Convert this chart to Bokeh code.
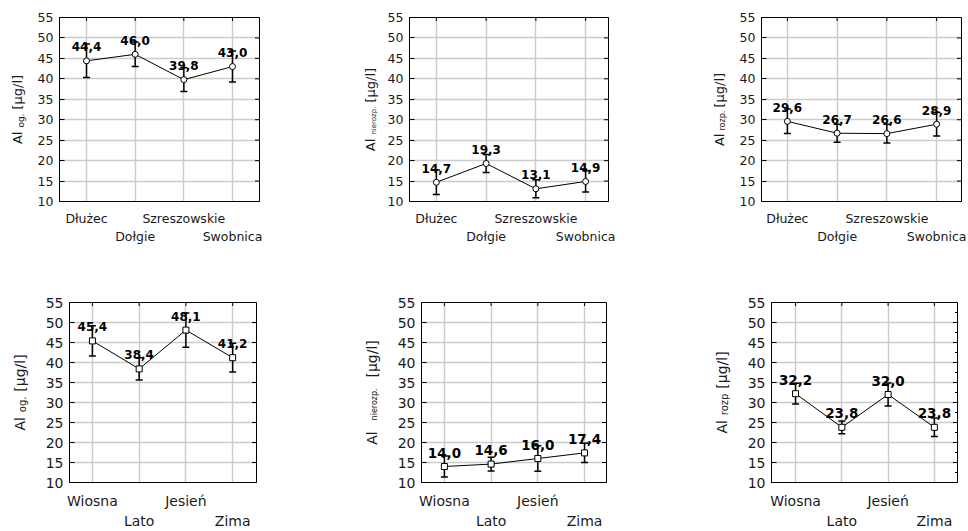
import math
from bokeh.plotting import figure
from bokeh.models import (Range1d, LinearAxis, FixedTicker, Grid, Whisker,
                          TeeHead, ColumnDataSource)
from bokeh.layouts import column, row
from bokeh.embed import file_html
from bokeh.resources import INLINE
from bokeh.core.properties import value

# ---------------- data ----------------
sites = ["Dłużec", "Dołgie", "Szreszowskie", "Swobnica"]
seasons = ["Wiosna", "Lato", "Jesień", "Zima"]
y_ticks = [10, 15, 20, 25, 30, 35, 40, 45, 50, 55]

og_site = [44.4, 46.0, 39.8, 43.0]
og_site_err = [4.1, 3.0, 2.9, 3.8]
nier_site = [14.7, 19.3, 13.1, 14.9]
nier_site_err = [3.0, 2.2, 2.2, 2.6]
rozp_site = [29.6, 26.7, 26.6, 28.9]
rozp_site_err = [3.0, 2.2, 2.3, 2.9]

og_season = [45.4, 38.4, 48.1, 41.2]
og_season_err = [3.8, 2.8, 4.3, 3.6]
nier_season = [14.0, 14.6, 16.0, 17.4]
nier_season_err = [2.6, 1.7, 3.2, 2.4]
rozp_season = [32.2, 23.8, 32.0, 23.8]
rozp_season_err = [2.6, 1.6, 2.9, 2.3]

ylab_main = "Al"
ylab_unit = "[µg/l]"
ylab_subs = ["og.", "nierozp.", "rozp.", "og.", "nierozp.", "rozp"]

# ---------------- styling helpers ----------------
FONT = "DejaVu Sans"
EM = {'A': 0.684, 'l': 0.278, 'o': 0.612, 'g': 0.635, '.': 0.318, 'n': 0.634,
      'i': 0.278, 'e': 0.615, 'r': 0.411, 'z': 0.525, 'p': 0.635, '[': 0.390,
      'µ': 0.636, '/': 0.337, ']': 0.390, ' ': 0.318}


def tw(s, size):
    return sum(EM.get(c, 0.6) for c in s) * size


def label_fig(sub, sp):
    lw, h = sp["lw"], sp["h"]
    fh = h - sp["bt"] - sp["bb"]
    f = figure(width=lw, height=h, output_backend="svg", toolbar_location=None,
               x_axis_type=None, y_axis_type=None,
               x_range=Range1d(0, lw), y_range=Range1d(0, fh),
               min_border_left=0, min_border_right=0, min_border_top=sp["bt"],
               min_border_bottom=sp["bb"], background_fill_color="white",
               border_fill_color="white")
    f.outline_line_color = None
    f.grid.visible = False
    yc = fh / 2
    fm, fs, gap = sp["fm"], sp["fs"], sp["gap"]
    parts = [(ylab_main, fm, 0), (sub, fs, 3), (ylab_unit, fm, 0)]
    widths = [tw(t, s) for t, s, _ in parts]
    total = sum(widths) + 2 * gap
    pos = yc - total / 2
    for (t, s, dx), wdt in zip(parts, widths):
        f.text(x=[sp["lc"] + dx], y=[pos + wdt / 2], text=[t], angle=math.pi / 2,
               text_align="center", text_baseline="middle",
               text_font=value(FONT), text_font_size=f"{s}px",
               text_color="#1a1a1a")
        pos += wdt + gap
    return f


def make_panel(cats, vals, errs, sub, sp):
    pw = sp["w"] - sp["lw"]
    p = figure(width=pw, height=sp["h"], output_backend="svg",
               toolbar_location=None, x_axis_type=None, y_axis_type=None,
               x_range=Range1d(*sp["xr"]), y_range=Range1d(10, 55),
               min_border_left=sp["bl"] - sp["lw"], min_border_right=sp["br"],
               min_border_top=sp["bt"], min_border_bottom=sp["bb"],
               background_fill_color="white", border_fill_color="white")
    p.outline_line_color = "black"
    p.outline_line_width = 1
    idx = list(range(1, len(cats) + 1))

    p.add_layout(Grid(dimension=0, ticker=FixedTicker(ticks=idx),
                      grid_line_color="#cccccc", grid_line_width=1.5))
    p.add_layout(Grid(dimension=1, ticker=FixedTicker(ticks=y_ticks),
                      grid_line_color="#cccccc", grid_line_width=1.5))

    tf = sp["tf"]
    yax = LinearAxis(ticker=FixedTicker(ticks=y_ticks), major_tick_in=5,
                     major_tick_out=0, minor_tick_line_color=None,
                     major_label_standoff=6, major_label_text_font=FONT,
                     major_label_text_font_size=tf,
                     major_label_text_color="#1a1a1a",
                     axis_line_color="black", major_tick_line_color="black")
    p.add_layout(yax, "left")

    odd = [i for i in idx if i % 2 == 1]
    even = [i for i in idx if i % 2 == 0]
    ax1 = LinearAxis(ticker=FixedTicker(ticks=odd),
                     major_label_overrides={i: cats[i - 1] for i in odd},
                     major_tick_line_color=None, minor_tick_line_color=None,
                     major_tick_in=0, major_tick_out=0,
                     major_label_standoff=sp["s1"], major_label_text_font=FONT,
                     major_label_text_font_size=sp["xf"],
                     major_label_text_color="#1a1a1a", axis_line_color="black")
    ax2 = LinearAxis(ticker=FixedTicker(ticks=even),
                     major_label_overrides={i: cats[i - 1] for i in even},
                     major_tick_line_color=None, minor_tick_line_color=None,
                     major_tick_in=0, major_tick_out=0,
                     major_label_standoff=sp["s2"], major_label_text_font=FONT,
                     major_label_text_font_size=sp["xf"],
                     major_label_text_color="#1a1a1a", axis_line_color=None)
    p.add_layout(ax1, "below")
    p.add_layout(ax2, "below")

    # inward ticks on the right and top edges (half of each dash is clipped by the frame)
    p.scatter(x=[sp["xr"][1]] * len(y_ticks), y=y_ticks, marker="dash",
              size=9, line_color="black", line_width=1)
    if sp.get("minor"):
        mt = [t + 2.5 for t in y_ticks[:-1]]
        p.scatter(x=[sp["xr"][1]] * len(mt), y=mt, marker="dash",
                  size=5, line_color="black", line_width=1)
    p.scatter(x=idx, y=[y_ticks[-1]] * len(idx), marker="dash", angle=math.pi / 2,
              size=7, line_color="black", line_width=1)

    src = ColumnDataSource(dict(
        x=idx, y=vals,
        lo=[v - e for v, e in zip(vals, errs)],
        hi=[v + e for v, e in zip(vals, errs)],
        lab=[f"{v:.1f}".replace(".", ",") for v in vals]))

    p.add_layout(Whisker(base="x", upper="hi", lower="lo", source=src,
                         line_color="black", line_width=1.5,
                         upper_head=TeeHead(size=7, line_width=1.5, line_color="black"),
                         lower_head=TeeHead(size=7, line_width=1.5, line_color="black")))
    p.line("x", "y", source=src, line_color="black", line_width=1)
    p.scatter("x", "y", source=src, marker=sp["marker"], size=6,
              fill_color="white", line_color="black", line_width=1)
    p.text("x", "y", "lab", source=src, text_font=value(FONT),
           text_font_style="bold", text_font_size=sp["vf"],
           text_align="center", text_baseline="middle", y_offset=-14,
           text_color="black")

    return row(label_fig(sub, sp), p, spacing=0)


top = dict(h=270, bt=17, bb=69, tf="12.5px", xf="12.5px", vf="12px",
           s1=9, s2=0, marker="circle", fm=13)
bot = dict(h=261, bt=32, bb=48, tf="14px", xf="14px", vf="13.5px",
           s1=10, s2=1, marker="square", fm=14)

specs = [
    dict(top, w=330, bl=59, br=71, xr=(0.445, 4.555), fs=9, gap=4, lw=30, lc=17),
    dict(top, w=320, bl=79, br=42, xr=(0.46, 4.46), fs=7, gap=4, lw=50, lc=40),
    dict(top, w=318, bl=111, br=7, xr=(0.48, 4.5), fs=8, gap=3, lw=80, lc=69),
    dict(bot, w=330, bl=69, br=74, xr=(0.51, 4.51), fs=10, gap=5, lw=34, lc=19, vf="12px"),
    dict(bot, w=320, bl=91, br=44, xr=(0.51, 4.47), fs=8, gap=11, lw=56, lc=41),
    dict(bot, w=318, bl=121, br=11, xr=(0.48, 4.5), fs=10, gap=5, lw=86, lc=71, minor=True),
]

series = [(sites, og_site, og_site_err), (sites, nier_site, nier_site_err),
          (sites, rozp_site, rozp_site_err), (seasons, og_season, og_season_err),
          (seasons, nier_season, nier_season_err),
          (seasons, rozp_season, rozp_season_err)]

panels = [make_panel(c, v, e, sub, sp)
          for (c, v, e), sub, sp in zip(series, ylab_subs, specs)]

layout = column(row(*panels[:3], spacing=0), row(*panels[3:], spacing=0), spacing=0)

open("out.html", "w").write(file_html(layout, INLINE))
